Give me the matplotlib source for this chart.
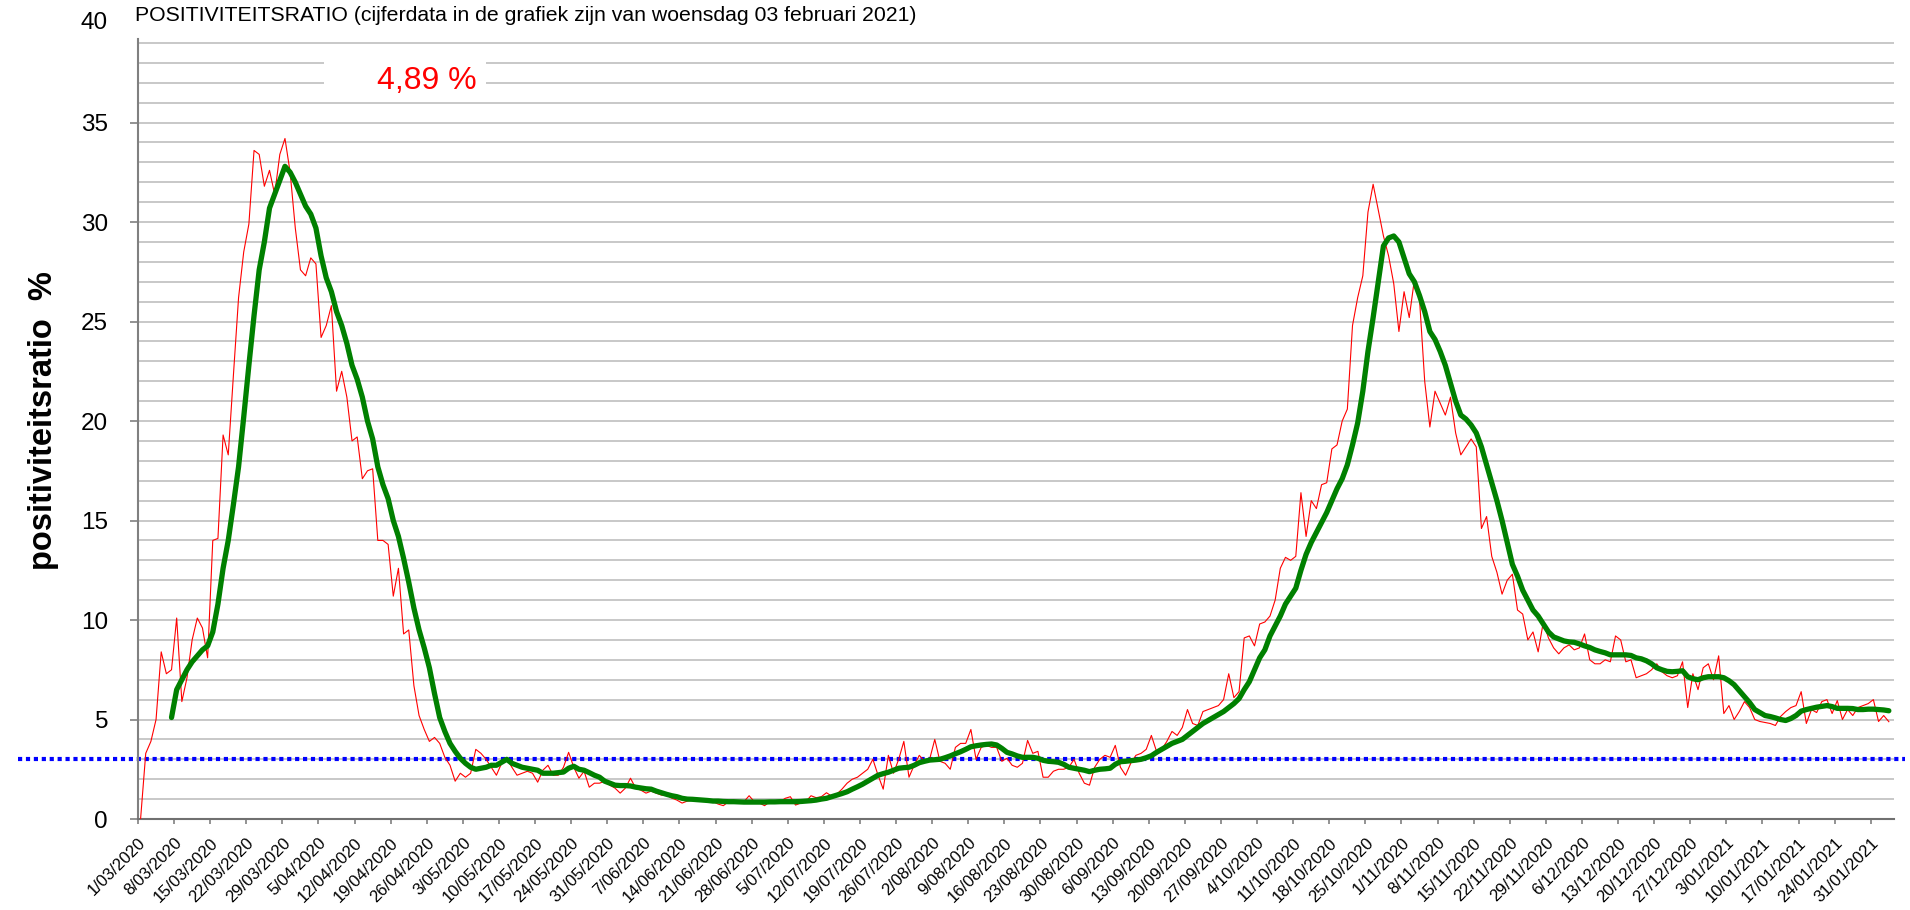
import numpy as np
import pandas as pd
import matplotlib
matplotlib.use("Agg")
import matplotlib.pyplot as plt
from matplotlib import font_manager
from matplotlib.patches import Rectangle
from matplotlib.transforms import blended_transform_factory

plt.rcParams["font.family"] = ["Liberation Sans", "DejaVu Sans"]

# daily positivity ratio (%), from 1/03/2020 to 3/02/2021
positiviteit = [
    0.0, 3.3, 3.9, 5.0, 8.4, 7.3, 7.5, 10.1, 5.9, 7.1,
    9.0, 10.1, 9.6, 8.1, 14.0, 14.1, 19.3, 18.3, 22.3, 26.2,
    28.5, 29.9, 33.6, 33.4, 31.8, 32.6, 31.4, 33.4, 34.2, 32.5,
    29.7, 27.6, 27.3, 28.2, 27.9, 24.2, 24.8, 25.8, 21.5, 22.5,
    21.2, 19.0, 19.2, 17.1, 17.5, 17.6, 14.0, 14.0, 13.8, 11.2,
    12.6, 9.3, 9.5, 6.7, 5.2, 4.5, 3.9, 4.1, 3.8, 3.1,
    2.7, 1.9, 2.3, 2.1, 2.3, 3.5, 3.3, 3.0, 2.6, 2.2,
    2.8, 3.05, 2.6, 2.2, 2.3, 2.4, 2.3, 1.85, 2.45, 2.7,
    2.2, 2.2, 2.6, 3.35, 2.6, 2.05, 2.4, 1.6, 1.8, 1.8,
    1.9, 1.7, 1.55, 1.3, 1.55, 2.05, 1.55, 1.45, 1.3, 1.4,
    1.3, 1.2, 1.2, 1.05, 0.95, 0.8, 0.9, 0.95, 0.95, 1.0,
    0.95, 0.87, 0.75, 0.67, 0.87, 0.95, 0.8, 0.87, 1.17, 0.87,
    0.8, 0.67, 0.87, 0.82, 0.87, 1.04, 1.12, 0.7, 0.8, 0.87,
    1.17, 1.07, 1.12, 1.32, 1.15, 1.25, 1.5, 1.8, 2.0, 2.1,
    2.3, 2.5, 3.0, 2.2, 1.5, 3.2, 2.3, 3.0, 3.9, 2.1,
    2.7, 3.2, 2.9, 3.0, 4.0, 2.9, 2.8, 2.5, 3.6, 3.8,
    3.8, 4.5, 3.0, 3.6, 3.7, 3.6, 3.6, 2.9, 3.05, 2.7,
    2.6, 2.8, 3.95, 3.3, 3.4, 2.1, 2.1, 2.4, 2.5, 2.5,
    2.6, 3.0, 2.3, 1.8, 1.7, 2.6, 3.0, 3.2, 3.1, 3.7,
    2.6, 2.2, 2.8, 3.2, 3.3, 3.5, 4.2, 3.4, 3.5, 3.9,
    4.4, 4.2, 4.6, 5.5, 4.8, 4.7, 5.4, 5.5, 5.6, 5.7,
    6.0, 7.3, 6.1, 6.4, 9.1, 9.2, 8.7, 9.8, 9.9, 10.2,
    11.0, 12.6, 13.15, 13.0, 13.2, 16.4, 14.2, 16.0, 15.6, 16.8,
    16.9, 18.6, 18.8, 20.0, 20.6, 24.8, 26.2, 27.3, 30.5, 31.9,
    30.6, 29.3, 28.3, 26.9, 24.5, 26.5, 25.2, 27.1, 26.1, 22.0,
    19.7, 21.5, 20.9, 20.3, 21.2, 19.4, 18.3, 18.7, 19.1, 18.7,
    14.6, 15.2, 13.2, 12.4, 11.3, 12.0, 12.3, 10.5, 10.3, 9.0,
    9.4, 8.4, 9.9, 9.1, 8.6, 8.3, 8.6, 8.75, 8.5, 8.6,
    9.3, 8.0, 7.8, 7.8, 8.0, 7.9, 9.2, 9.0, 7.9, 8.0,
    7.1, 7.2, 7.3, 7.5, 7.8, 7.4, 7.2, 7.1, 7.2, 7.9,
    5.6, 7.3, 6.5, 7.6, 7.8, 7.0, 8.2, 5.3, 5.7, 5.0,
    5.4, 5.9, 5.6, 5.0, 4.9, 4.85, 4.8, 4.7, 5.15, 5.4,
    5.6, 5.7, 6.4, 4.8, 5.5, 5.35, 5.9, 6.0, 5.3, 5.95,
    5.0, 5.5, 5.2, 5.6, 5.7, 5.8, 6.0, 4.9, 5.2, 4.89,
]

# 7-day average, starts on the 7th day
gemiddelde_start = 6
gemiddelde = [
    5.1, 6.5, 7.0, 7.5, 7.9, 8.2, 8.5, 8.7, 9.4, 10.8,
    12.6, 14.0, 15.8, 17.7, 20.2, 22.8, 25.3, 27.6, 29.0, 30.7,
    31.4, 32.1, 32.8, 32.5, 32.0, 31.4, 30.8, 30.4, 29.7, 28.3,
    27.2, 26.5, 25.5, 24.8, 23.9, 22.8, 22.1, 21.2, 20.0, 19.1,
    17.7, 16.8, 16.1, 15.0, 14.2, 13.1, 11.9, 10.6, 9.5, 8.6,
    7.6, 6.3, 5.1, 4.4, 3.8, 3.4, 3.05, 2.8, 2.6, 2.5,
    2.55, 2.6, 2.7, 2.7, 2.85, 3.0, 2.8, 2.7, 2.6, 2.55,
    2.5, 2.45, 2.3, 2.3, 2.3, 2.33, 2.36, 2.55, 2.65, 2.5,
    2.45, 2.33, 2.2, 2.1, 1.9, 1.8, 1.7, 1.68, 1.68, 1.66,
    1.6, 1.56, 1.52, 1.5, 1.4, 1.32, 1.24, 1.17, 1.12, 1.04,
    1.0, 0.99, 0.97, 0.95, 0.93, 0.9, 0.9, 0.88, 0.87, 0.87,
    0.86, 0.85, 0.85, 0.85, 0.85, 0.85, 0.86, 0.86, 0.87, 0.87,
    0.87, 0.87, 0.88, 0.9, 0.92, 0.95, 1.0, 1.04, 1.12, 1.2,
    1.28, 1.37, 1.5, 1.62, 1.75, 1.9, 2.05, 2.2, 2.28, 2.35,
    2.45, 2.55, 2.58, 2.6, 2.7, 2.83, 2.9, 2.96, 2.98, 3.0,
    3.08, 3.17, 3.28, 3.38, 3.5, 3.63, 3.68, 3.72, 3.75, 3.77,
    3.72, 3.55, 3.35, 3.27, 3.17, 3.1, 3.1, 3.1, 3.05, 2.95,
    2.9, 2.88, 2.85, 2.75, 2.6, 2.55, 2.5, 2.45, 2.38, 2.45,
    2.5, 2.52, 2.55, 2.75, 2.88, 2.9, 2.93, 2.96, 3.0, 3.08,
    3.18, 3.35, 3.5, 3.65, 3.8, 3.9, 4.0, 4.2, 4.4, 4.6,
    4.8, 4.95, 5.1, 5.25, 5.4, 5.6, 5.8, 6.05, 6.5, 6.9,
    7.5, 8.1, 8.5, 9.2, 9.7, 10.2, 10.8, 11.2, 11.6, 12.5,
    13.3, 13.9, 14.4, 14.9, 15.4, 16.0, 16.6, 17.1, 17.8, 18.8,
    19.9, 21.5, 23.5, 25.2, 27.0, 28.8, 29.2, 29.3, 29.0, 28.2,
    27.4, 27.0, 26.3, 25.5, 24.5, 24.1, 23.5, 22.8, 21.9, 21.0,
    20.3, 20.1, 19.8, 19.4, 18.7, 17.8, 16.9, 16.0, 15.0, 13.9,
    12.8, 12.2, 11.5, 11.0, 10.5, 10.2, 9.8, 9.4, 9.15, 9.05,
    8.95, 8.9, 8.88, 8.8, 8.7, 8.62, 8.5, 8.42, 8.35, 8.25,
    8.25, 8.25, 8.25, 8.22, 8.1, 8.05, 7.95, 7.8, 7.6, 7.5,
    7.42, 7.4, 7.42, 7.45, 7.15, 7.05, 7.0, 7.1, 7.15, 7.15,
    7.15, 7.1, 6.95, 6.75, 6.45, 6.15, 5.85, 5.5, 5.35, 5.2,
    5.15, 5.08, 5.0, 4.95, 5.05, 5.2, 5.42, 5.5, 5.56, 5.62,
    5.66, 5.7, 5.65, 5.56, 5.56, 5.56, 5.55, 5.5, 5.5, 5.52,
    5.52, 5.5, 5.48, 5.44,
]

drempel = 3  # blue dotted reference line
startdatum = "2020-03-01"
weekdagen = pd.date_range(startdatum, "2021-01-31", freq="7D")
tick_labels = [f"{d.day}/{d.month:02d}/{d.year}" for d in weekdagen]
y_labels = [0, 5, 10, 15, 20, 25, 30, 35]

titel = "POSITIVITEITSRATIO (cijferdata in de grafiek zijn van woensdag 03 februari 2021)"

# y-as label: narrow bold font if there is one
fontnamen = {f.name for f in font_manager.fontManager.ttflist}
if "Liberation Sans Narrow" in fontnamen:
    ylabel_font, ylabel_size, ylabel_tekst = "Liberation Sans Narrow", 28, "positiviteitsratio  %"
else:
    ylabel_font, ylabel_size, ylabel_tekst = "Liberation Sans", 23.5, "positiviteitsratio  %"

# plot
n = len(positiviteit)
x = np.arange(n) + 0.5
x_gem = np.arange(gemiddelde_start, gemiddelde_start + len(gemiddelde)) + 0.5

fig = plt.figure(figsize=(19.1, 9.1), dpi=100)
ax = fig.add_axes([138 / 1910, 0.1, (1894 - 138) / 1910, 780 / 910])

ax.plot(x, positiviteit, color="#ff0000", lw=0.8, zorder=3)
ax.plot(x_gem, gemiddelde, color="#008000", lw=3.8, zorder=4,
        solid_capstyle="round", solid_joinstyle="round")

blend = blended_transform_factory(fig.transFigure, ax.transData)
ax.plot([18 / 1910, 1905 / 1910], [drempel, drempel], transform=blend,
        color="#0000ff", lw=3, linestyle=(0, (1, 0.9)), clip_on=False, zorder=2.5)

ax.set_xlim(0, n + 0.5)
ax.set_ylim(0, 39.2)

ax.set_yticks(y_labels)
ax.set_yticks(np.arange(1, 40), minor=True)
ax.yaxis.grid(True, which="both", color="#c4c4c4", lw=1.3, zorder=0)
ax.set_axisbelow(True)
ax.tick_params(axis="y", which="major", length=5.8, width=1.2, color="#808080",
               labelsize=17.5, pad=15.8)
ax.tick_params(axis="y", which="minor", length=0)

ax.set_xticks(np.arange(0, 7 * len(tick_labels), 7))
ax.set_xticklabels(tick_labels, rotation=45, ha="right", va="top",
                   rotation_mode="anchor", fontsize=12)
ax.tick_params(axis="x", length=3.6, width=1.2, color="#808080", pad=8)

ax.annotate("40", xy=(0, 40), xycoords=("axes fraction", "data"),
            xytext=(-21.6, 0), textcoords="offset points",
            ha="right", va="center", fontsize=17.5, annotation_clip=False)

for side in ["top", "right"]:
    ax.spines[side].set_visible(False)
ax.spines["left"].set_color("#808080")
ax.spines["left"].set_linewidth(1.5)
ax.spines["bottom"].set_color("#707070")
ax.spines["bottom"].set_linewidth(1.5)

# box with the last value
ax.add_patch(Rectangle((36.1, 36.35), 31.4, 2.35, facecolor="white",
                       edgecolor="none", zorder=1))
laatste = f"{positiviteit[-1]:.2f} %".replace(".", ",")
ax.text(65.7, 37.1, laatste, color="#ff0000", fontsize=23,
        ha="right", va="center", zorder=5)

fig.text(135 / 1910, 1 - 20.7 / 910, titel, fontsize=15.3, ha="left", va="baseline")
fig.text(52 / 1910, 1 - 421 / 910, ylabel_tekst, rotation=90, rotation_mode="anchor",
         family=[ylabel_font, "DejaVu Sans"], fontsize=ylabel_size,
         fontweight="bold", ha="center", va="baseline")

plt.savefig("out.png", dpi=100, facecolor="white")
